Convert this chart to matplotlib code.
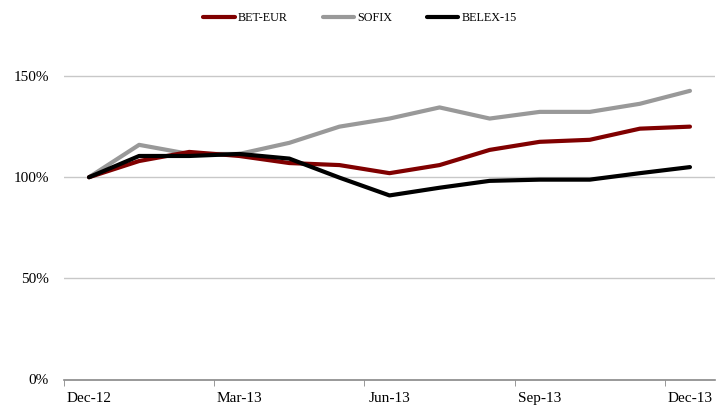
import matplotlib
matplotlib.use("Agg")
import matplotlib.pyplot as plt
import numpy as np

months = ["Dec-12", "Jan-13", "Feb-13", "Mar-13", "Apr-13", "May-13", "Jun-13",
          "Jul-13", "Aug-13", "Sep-13", "Oct-13", "Nov-13", "Dec-13"]
bet_eur = [100, 108, 112.5, 110.5, 107, 106, 102, 106, 113.5, 117.5, 118.5, 124, 125]
sofix = [100, 116, 111.5, 111.5, 117, 125, 129, 134.5, 129, 132.3, 132.3, 136.3, 142.7]
belex15 = [100, 110.5, 110.5, 111.5, 109.2, 99.8, 91, 94.8, 98.2, 98.8, 98.8, 102, 105]
tick_labels = ["Dec-12", "Mar-13", "Jun-13", "Sep-13", "Dec-13"]

plt.rcParams['font.family'] = ['Liberation Serif', 'DejaVu Serif']

fig = plt.figure(figsize=(7.18, 4.05), dpi=100)
ax = fig.add_axes([64/718, 1-379.5/405, 651/718, (379.5-25.5)/405])

x = np.arange(len(months))
ax.plot(x, bet_eur, color="#800000", lw=3, label="BET-EUR", solid_capstyle="round", zorder=3)
ax.plot(x, sofix, color="#999999", lw=3, label="SOFIX", solid_capstyle="round", zorder=2)
ax.plot(x, belex15, color="#000000", lw=3, label="BELEX-15", solid_capstyle="round", zorder=4)

ax.set_xlim(-0.5, len(months) - 0.5)
ax.set_ylim(0, 175)

for s in ["top", "right", "left"]:
    ax.spines[s].set_visible(False)
ax.spines["bottom"].set_color("#888888")
ax.spines["bottom"].set_linewidth(1.2)

ax.set_yticks([0, 50, 100, 150])
ax.set_yticklabels(["0%", "50%", "100%", "150%"], fontsize=11)
ax.tick_params(axis="y", length=0, pad=11)
for yv in [50, 100, 150]:
    ax.axhline(yv, color="#c8c8c8", lw=1, zorder=1)

idx = [months.index(t) for t in tick_labels]
ax.set_xticks(idx)
ax.set_xticklabels(tick_labels, fontsize=11)
ax.tick_params(axis="x", length=0, pad=9)
ax.set_xticks([i - 0.5 for i in idx], minor=True)
ax.tick_params(axis="x", which="minor", length=4, color="#888888", direction="out")

leg = fig.legend(loc="center", bbox_to_anchor=(360/718, 1-18/405), ncol=3, frameon=False,
                 fontsize=8.7, handlelength=2.6, columnspacing=2.9, handletextpad=0.25)

fig.savefig("out.png", dpi=100)
